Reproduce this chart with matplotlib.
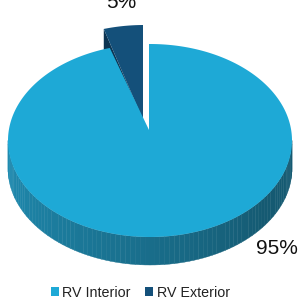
import matplotlib.pyplot as plt
from matplotlib.patches import Polygon, Patch
import matplotlib.colors as mcolors
import numpy as np

# chart data
labels = ['RV Interior', 'RV Exterior']
values = [95, 5]
pct_labels = ['95%', '5%']
colors_top = ['#1EA9D6', '#14507A']
colors_side = ['#1D84A8', '#0C3452']

plt.rcParams['font.family'] = ['Liberation Sans', 'DejaVu Sans']

fig = plt.figure(figsize=(3.0, 3.07), dpi=100)
ax = fig.add_axes([0, 0, 1, 1])
ax.set_xlim(0, 300)
ax.set_ylim(307, 0)
ax.axis('off')

# top-face ellipse (pixel space, y down) and the projected pie centre
ecx, ecy = 150, 140.5
a, b = 142, 96.5
pcx, pcy = 149, 130
depth = 28


def rim_param(t):
    t = np.radians(t)
    return ecx + a * np.cos(t), ecy - b * np.sin(t)


def rim_ray(th):
    # point on the ellipse hit by a ray from the pie centre at pie angle th
    th = np.radians(th)
    ux, uy = a * np.cos(th), -b * np.sin(th)
    ox, oy = (pcx - ecx) / a, (pcy - ecy) / b
    vx, vy = ux / a, uy / b
    A = vx * vx + vy * vy
    B = 2 * (ox * vx + oy * vy)
    C = ox * ox + oy * oy - 1
    s = (-B + np.sqrt(B * B - 4 * A * C)) / (2 * A)
    return pcx + s * ux, pcy + s * uy


# slice angles: start at 12 o'clock, run clockwise
total = float(sum(values))
spans = []
start = 90.0
for v in values:
    end = start - 360.0 * v / total
    spans.append((end + 360, start + 360))
    start = end
int_lo, int_hi = spans[0]
ext_lo, ext_hi = spans[1]

# exploded offset for the exterior slice
dx, dy = -6, -19

# exterior slice: visible radial face at ext_hi, then top face
ex0, ey0 = pcx + dx, pcy + dy + 9
rx, ry = rim_ray(ext_hi)
rx, ry = rx + dx, ry + dy
ax.add_patch(Polygon([(ex0, ey0), (rx, ry), (rx, ry + depth), (ex0, ey0 + depth)],
                     closed=True, facecolor=colors_side[1], edgecolor='none'))
tt = np.linspace(ext_lo, ext_hi, 30)
pts = [(ex0, ey0)] + [(x + dx, y + dy) for x, y in (rim_ray(t) for t in tt)]
ax.add_patch(Polygon(pts, closed=True, facecolor=colors_top[1], edgecolor='none'))

# interior side (front half), shaded strips
c_light = np.array(mcolors.to_rgb('#1F8DB3'))
c_dark = np.array(mcolors.to_rgb('#155A72'))
edges = np.linspace(180, 360, 91)
for i in range(len(edges) - 1):
    t0, t1 = edges[i], edges[i + 1]
    x0, y0 = rim_param(t0)
    x1, y1 = rim_param(t1)
    f = (0.5 * (t0 + t1) - 180) / 180
    f = min(1.0, f * 1.25)
    col = c_light * (1 - f) + c_dark * f
    ax.add_patch(Polygon([(x0, y0), (x1, y1), (x1, y1 + depth), (x0, y0 + depth)],
                         closed=True, facecolor=col, edgecolor=col, linewidth=0.3))

# interior top face
tt = np.linspace(int_lo, int_hi, 400)
pts = [(pcx, pcy)] + [rim_ray(t) for t in tt]
ax.add_patch(Polygon(pts, closed=True, facecolor=colors_top[0], edgecolor='none'))

# percentage labels
ax.text(277, 248, pct_labels[0], fontsize=15, ha='center', va='center', color='#111111')
ax.text(121, 2, pct_labels[1], fontsize=15, ha='center', va='center', color='#111111')

handles = [Patch(facecolor=colors_top[0], label=labels[0]),
           Patch(facecolor=colors_top[1], label=labels[1])]
fig.legend(handles=handles, loc='center', bbox_to_anchor=(0.468, 0.047), ncol=2,
           frameon=False, fontsize=10.3, handlelength=0.55, handleheight=0.55,
           handletextpad=0.25, columnspacing=1.0, labelcolor='#222222')

fig.savefig('out.png', dpi=100)
